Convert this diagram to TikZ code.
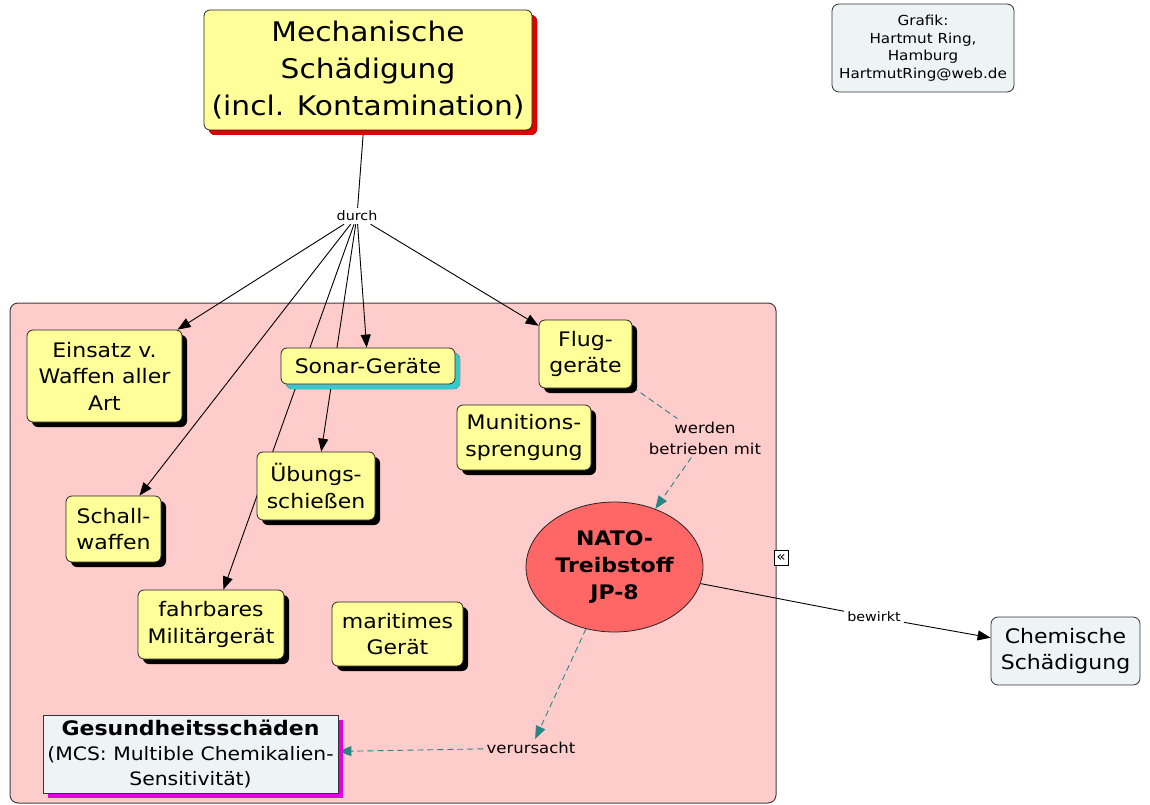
\documentclass[tikz,border=0pt]{standalone}
\usepackage{fontspec}
\setmainfont{DejaVu Sans}[FakeStretch=1.1]
\usetikzlibrary{positioning, shapes.geometric, shadows, arrows.meta}
\definecolor{gelb}{HTML}{FFFF99}
\definecolor{rosa}{HTML}{FFCCCC}
\definecolor{hellblau}{HTML}{EEF3F6}
\definecolor{natorot}{HTML}{FF6666}
\definecolor{petrol}{HTML}{2A8585}
\definecolor{tuerkis}{HTML}{33CCCC}
\definecolor{schattenrot}{HTML}{E00000}
\definecolor{schattenlila}{HTML}{E000E0}
\pgfdeclarelayer{grund}
\pgfdeclarelayer{linien}
\pgfsetlayers{grund,linien,main}
\tikzstyle{konzept} = [rectangle, rounded corners=6pt, draw=black!85, fill=gelb, align=center, inner sep=2pt, line width=0.8pt, font=\fontsize{20}{26.5}\selectfont, drop shadow={shadow xshift=5pt, shadow yshift=-5pt, fill=black, opacity=1}]
\tikzstyle{info} = [rectangle, rounded corners=7pt, draw=black!80, fill=hellblau, align=center, line width=0.8pt]
\tikzstyle{phrase} = [inner sep=3pt, align=center, font=\fontsize{13}{17}\selectfont]
\tikzstyle{arrow} = [line width=0.9pt, -{Triangle[length=13pt, width=10pt]}]
\tikzstyle{linie} = [line width=0.9pt]
\tikzstyle{gestrichelt} = [line width=0.9pt, draw=petrol, dash pattern=on 6pt off 4pt]
\tikzstyle{garrow} = [gestrichelt, -{Triangle[length=13pt, width=10pt, fill=petrol]}]

\begin{document}
\begin{tikzpicture}[x=1pt, y=-1pt]
    \useasboundingbox (0,0) rectangle (1150,805);
    %Begriffe
    \node (mech) [konzept, minimum width=328pt, minimum height=120pt, font=\fontsize{27}{37}\selectfont, drop shadow={shadow xshift=5pt, shadow yshift=-5pt, fill=schattenrot, opacity=1}] at (368,70) {Mechanische\\Schädigung\\(incl. Kontamination)};
    \node (durch) [phrase] at (357,216) {durch};
    \node (grafik) [info, minimum width=182pt, minimum height=88pt, font=\fontsize{13.8}{17.5}\selectfont] at (923,48) {Grafik:\\Hartmut Ring,\\Hamburg\\HartmutRing@web.de};
    \node (einsatz) [konzept, minimum width=155pt, minimum height=92pt] at (104.5,376) {Einsatz v.\\Waffen aller\\Art};
    \node (sonar) [konzept, minimum width=174pt, minimum height=36pt, drop shadow={shadow xshift=5pt, shadow yshift=-5pt, fill=tuerkis, opacity=1}] at (368,366) {Sonar-Geräte};
    \node (flug) [konzept, minimum width=93pt, minimum height=68pt] at (585.5,354) {Flug-\\geräte};
    \node (munition) [konzept, minimum width=134pt, minimum height=65pt] at (524,437.5) {Munitions-\\sprengung};
    \node (uebung) [konzept, minimum width=118pt, minimum height=68pt] at (316,486) {Übungs-\\schießen};
    \node (schall) [konzept, minimum width=95pt, minimum height=66pt] at (113.5,529) {Schall-\\waffen};
    \node (fahrbar) [konzept, minimum width=146pt, minimum height=69pt] at (211,624.5) {fahrbares\\Militärgerät};
    \node (maritim) [konzept, minimum width=131pt, minimum height=64pt] at (397.5,634) {maritimes\\Gerät};
    \node (nato) [ellipse, draw=black!85, fill=natorot, line width=0.8pt, minimum width=177pt, minimum height=130pt, align=center, font=\bfseries\fontsize{20}{27}\selectfont] at (614.5,567) {NATO-\\Treibstoff\\JP-8};
    \node (werden) [phrase, font=\fontsize{15}{21}\selectfont] at (705,438) {werden\\betrieben mit};
    \node (verursacht) [phrase, font=\fontsize{15}{21}\selectfont] at (531,748) {verursacht};
    \node (gesund) [info, rounded corners=0pt, minimum width=295pt, minimum height=78pt, font=\fontsize{18.5}{25}\selectfont, drop shadow={shadow xshift=5pt, shadow yshift=-5pt, fill=schattenlila, opacity=1}] at (190.5,754) {{\bfseries\fontsize{20}{25}\selectfont Gesundheitsschäden}\\(MCS: Multible Chemikalien-\\Sensitivität)};
    \node (bewirkt) [phrase] at (874,617) {bewirkt};
    \node (chemie) [info, minimum width=149pt, minimum height=68pt, font=\fontsize{20}{26}\selectfont] at (1065.5,651) {Chemische\\Schädigung};
    \node (knopf) [rectangle, draw=black, fill=white, line width=0.6pt, inner sep=0.5pt, minimum width=14pt, minimum height=15pt, font=\fontsize{14}{14}\selectfont] at (781,558) {«};

    %Gruppe
    \begin{pgfonlayer}{grund}
        \node (gruppe) [rectangle, rounded corners=8pt, draw=black!75, fill=rosa, line width=1pt, minimum width=766pt, minimum height=500pt] at (393,553) {};
    \end{pgfonlayer}

    %Verbindungen
    \begin{pgfonlayer}{linien}
        \draw [linie](mech) -- (durch);
        \draw [arrow](durch) -- (einsatz);
        \draw [arrow](durch) -- (schall);
        \draw [arrow](durch) -- (fahrbar);
        \draw [arrow](durch) -- (uebung);
        \draw [arrow](durch) -- (sonar);
        \draw [arrow](durch) -- (flug);
        \draw [gestrichelt](flug) -- (werden);
        \draw [garrow](werden) -- (nato);
        \draw [garrow](nato) -- (verursacht);
        \draw [garrow](verursacht) -- (gesund);
        \draw [linie](nato) -- (bewirkt);
        \draw [arrow](bewirkt) -- (chemie);
    \end{pgfonlayer}
\end{tikzpicture}
\end{document}
